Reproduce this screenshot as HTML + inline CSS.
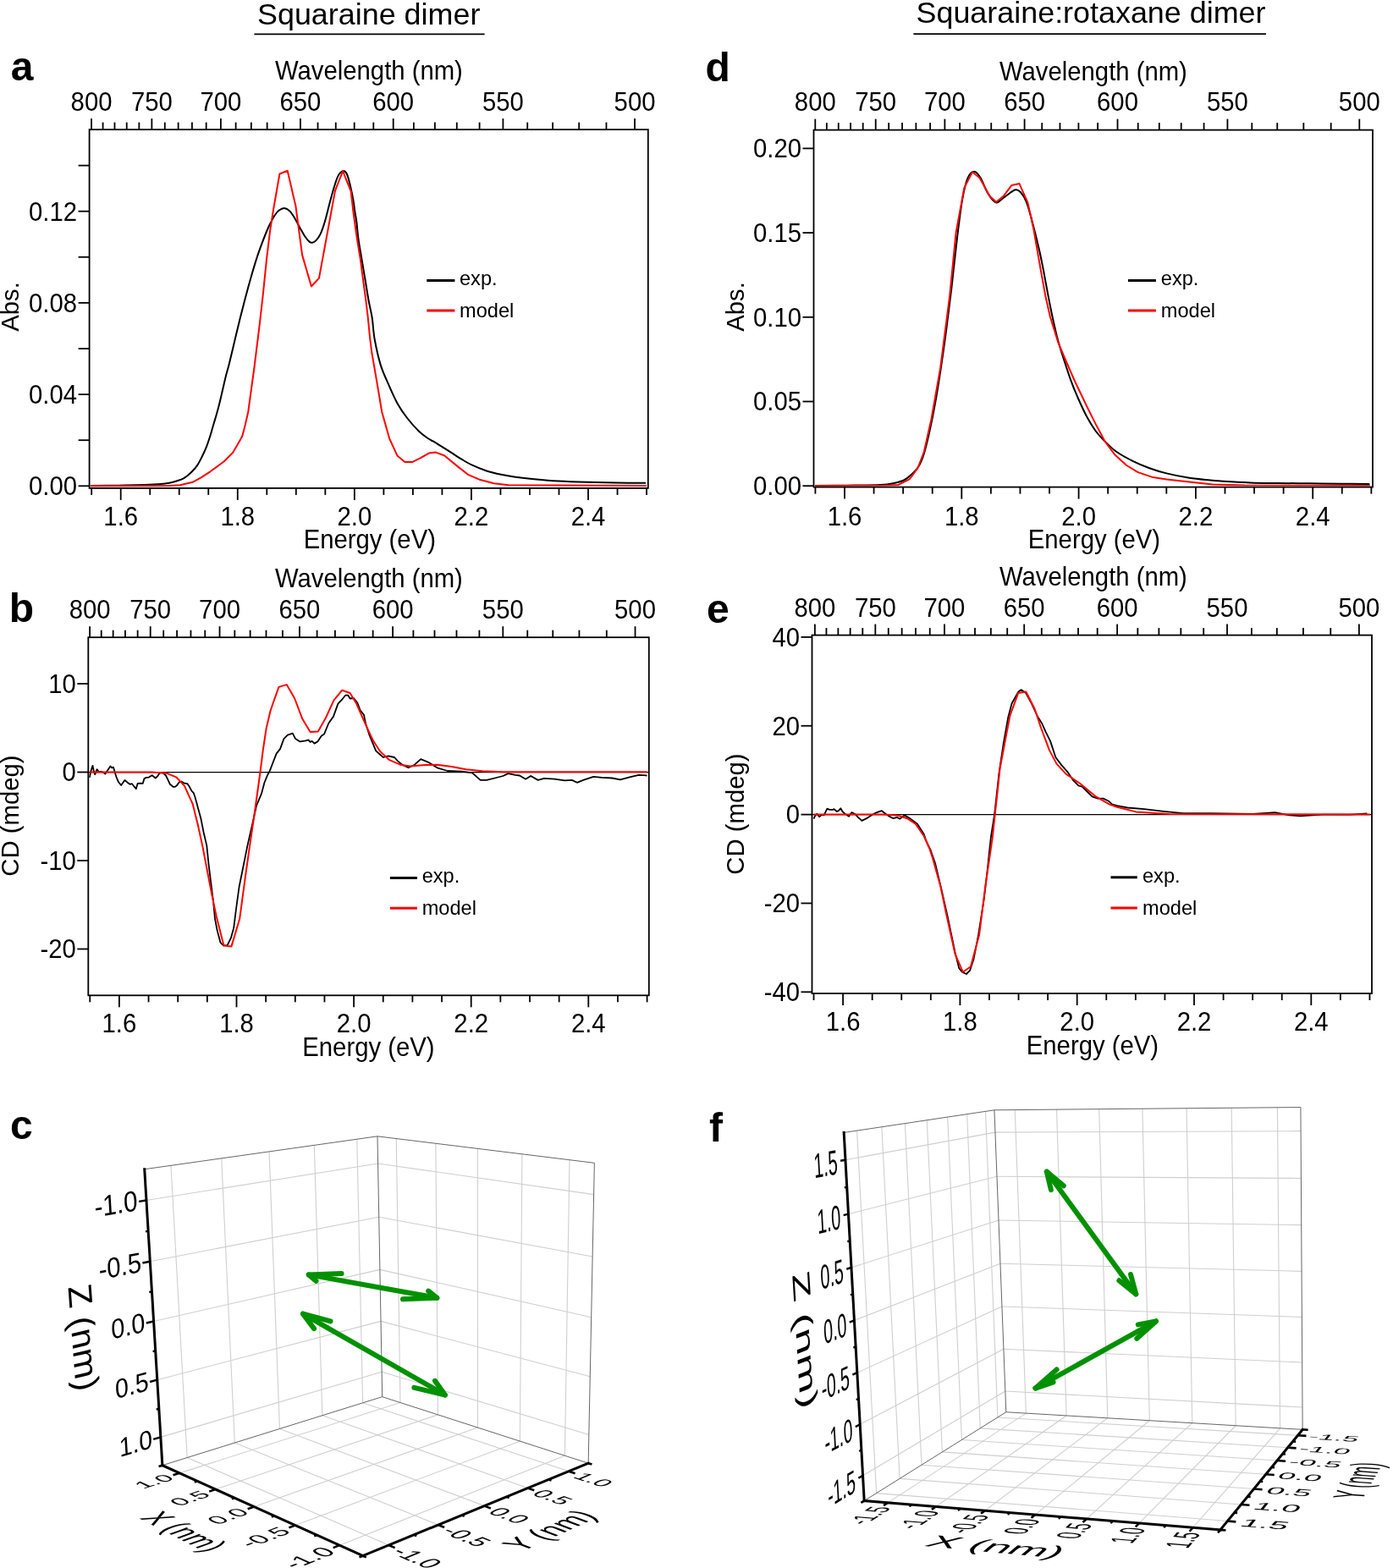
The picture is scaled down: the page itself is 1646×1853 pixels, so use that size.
<!DOCTYPE html>
<html><head><meta charset="utf-8"><title>Squaraine dimer figure</title>
<style>html,body{margin:0;padding:0;background:#fff;}svg{display:block;}</style>
</head><body>
<svg width="1646" height="1853" viewBox="0 0 1646 1853" font-family="'Liberation Sans', Arial, Helvetica, sans-serif">
<rect width="1646" height="1853" fill="#fff"/>
<text x="304" y="29" font-size="35.9" text-anchor="start">Squaraine dimer</text>
<line x1="300.4" y1="40.4" x2="572.6" y2="40.4" stroke="#000" stroke-width="1.7"/>
<text x="1082.5" y="26.5" font-size="35.9" text-anchor="start">Squaraine:rotaxane dimer</text>
<line x1="1079.4" y1="40.2" x2="1496" y2="40.2" stroke="#000" stroke-width="1.7"/>
<text x="12.8" y="95.4" font-size="48" text-anchor="start" font-weight="bold">a</text>
<text x="10.8" y="735.3" font-size="48" text-anchor="start" font-weight="bold">b</text>
<text x="12.1" y="1346.1" font-size="48" text-anchor="start" font-weight="bold">c</text>
<text x="833.6" y="96.3" font-size="48" text-anchor="start" font-weight="bold">d</text>
<text x="834.9" y="735.6" font-size="48" text-anchor="start" font-weight="bold">e</text>
<text x="838" y="1348.9" font-size="48" text-anchor="start" font-weight="bold">f</text>
<rect x="105.6" y="153.1" width="660.2" height="423.8" fill="none" stroke="#000" stroke-width="1.8"/>
<line x1="108.18" y1="576.9" x2="108.18" y2="584.9" stroke="#000" stroke-width="1.8"/>
<line x1="142.7" y1="576.9" x2="142.7" y2="590.9" stroke="#000" stroke-width="1.8"/>
<text x="0" y="0" font-size="29.3" text-anchor="middle" transform="translate(142.7 620.8) scale(1 1.05)">1.6</text>
<line x1="177.22" y1="576.9" x2="177.22" y2="584.9" stroke="#000" stroke-width="1.8"/>
<line x1="211.74" y1="576.9" x2="211.74" y2="584.9" stroke="#000" stroke-width="1.8"/>
<line x1="246.26" y1="576.9" x2="246.26" y2="584.9" stroke="#000" stroke-width="1.8"/>
<line x1="280.78" y1="576.9" x2="280.78" y2="590.9" stroke="#000" stroke-width="1.8"/>
<text x="0" y="0" font-size="29.3" text-anchor="middle" transform="translate(280.78 620.8) scale(1 1.05)">1.8</text>
<line x1="315.3" y1="576.9" x2="315.3" y2="584.9" stroke="#000" stroke-width="1.8"/>
<line x1="349.82" y1="576.9" x2="349.82" y2="584.9" stroke="#000" stroke-width="1.8"/>
<line x1="384.34" y1="576.9" x2="384.34" y2="584.9" stroke="#000" stroke-width="1.8"/>
<line x1="418.86" y1="576.9" x2="418.86" y2="590.9" stroke="#000" stroke-width="1.8"/>
<text x="0" y="0" font-size="29.3" text-anchor="middle" transform="translate(418.86 620.8) scale(1 1.05)">2.0</text>
<line x1="453.38" y1="576.9" x2="453.38" y2="584.9" stroke="#000" stroke-width="1.8"/>
<line x1="487.9" y1="576.9" x2="487.9" y2="584.9" stroke="#000" stroke-width="1.8"/>
<line x1="522.42" y1="576.9" x2="522.42" y2="584.9" stroke="#000" stroke-width="1.8"/>
<line x1="556.94" y1="576.9" x2="556.94" y2="590.9" stroke="#000" stroke-width="1.8"/>
<text x="0" y="0" font-size="29.3" text-anchor="middle" transform="translate(556.94 620.8) scale(1 1.05)">2.2</text>
<line x1="591.46" y1="576.9" x2="591.46" y2="584.9" stroke="#000" stroke-width="1.8"/>
<line x1="625.98" y1="576.9" x2="625.98" y2="584.9" stroke="#000" stroke-width="1.8"/>
<line x1="660.5" y1="576.9" x2="660.5" y2="584.9" stroke="#000" stroke-width="1.8"/>
<line x1="695.02" y1="576.9" x2="695.02" y2="590.9" stroke="#000" stroke-width="1.8"/>
<text x="0" y="0" font-size="29.3" text-anchor="middle" transform="translate(695.02 620.8) scale(1 1.05)">2.4</text>
<line x1="729.54" y1="576.9" x2="729.54" y2="584.9" stroke="#000" stroke-width="1.8"/>
<line x1="764.06" y1="576.9" x2="764.06" y2="584.9" stroke="#000" stroke-width="1.8"/>
<line x1="108.04" y1="153.1" x2="108.04" y2="140.1" stroke="#000" stroke-width="1.8"/>
<text x="0" y="0" font-size="29.3" text-anchor="middle" transform="translate(108.04 131.4) scale(1 1.06)">800</text>
<line x1="121.59" y1="153.1" x2="121.59" y2="144.6" stroke="#000" stroke-width="1.8"/>
<line x1="135.48" y1="153.1" x2="135.48" y2="144.6" stroke="#000" stroke-width="1.8"/>
<line x1="149.73" y1="153.1" x2="149.73" y2="144.6" stroke="#000" stroke-width="1.8"/>
<line x1="164.36" y1="153.1" x2="164.36" y2="144.6" stroke="#000" stroke-width="1.8"/>
<line x1="179.37" y1="153.1" x2="179.37" y2="140.1" stroke="#000" stroke-width="1.8"/>
<text x="0" y="0" font-size="29.3" text-anchor="middle" transform="translate(179.37 131.4) scale(1 1.06)">750</text>
<line x1="194.8" y1="153.1" x2="194.8" y2="144.6" stroke="#000" stroke-width="1.8"/>
<line x1="210.64" y1="153.1" x2="210.64" y2="144.6" stroke="#000" stroke-width="1.8"/>
<line x1="226.93" y1="153.1" x2="226.93" y2="144.6" stroke="#000" stroke-width="1.8"/>
<line x1="243.67" y1="153.1" x2="243.67" y2="144.6" stroke="#000" stroke-width="1.8"/>
<line x1="260.9" y1="153.1" x2="260.9" y2="140.1" stroke="#000" stroke-width="1.8"/>
<text x="0" y="0" font-size="29.3" text-anchor="middle" transform="translate(260.9 131.4) scale(1 1.06)">700</text>
<line x1="278.62" y1="153.1" x2="278.62" y2="144.6" stroke="#000" stroke-width="1.8"/>
<line x1="296.86" y1="153.1" x2="296.86" y2="144.6" stroke="#000" stroke-width="1.8"/>
<line x1="315.65" y1="153.1" x2="315.65" y2="144.6" stroke="#000" stroke-width="1.8"/>
<line x1="335.01" y1="153.1" x2="335.01" y2="144.6" stroke="#000" stroke-width="1.8"/>
<line x1="354.96" y1="153.1" x2="354.96" y2="140.1" stroke="#000" stroke-width="1.8"/>
<text x="0" y="0" font-size="29.3" text-anchor="middle" transform="translate(354.96 131.4) scale(1 1.06)">650</text>
<line x1="375.54" y1="153.1" x2="375.54" y2="144.6" stroke="#000" stroke-width="1.8"/>
<line x1="396.77" y1="153.1" x2="396.77" y2="144.6" stroke="#000" stroke-width="1.8"/>
<line x1="418.68" y1="153.1" x2="418.68" y2="144.6" stroke="#000" stroke-width="1.8"/>
<line x1="441.31" y1="153.1" x2="441.31" y2="144.6" stroke="#000" stroke-width="1.8"/>
<line x1="464.7" y1="153.1" x2="464.7" y2="140.1" stroke="#000" stroke-width="1.8"/>
<text x="0" y="0" font-size="29.3" text-anchor="middle" transform="translate(464.7 131.4) scale(1 1.06)">600</text>
<line x1="488.88" y1="153.1" x2="488.88" y2="144.6" stroke="#000" stroke-width="1.8"/>
<line x1="513.9" y1="153.1" x2="513.9" y2="144.6" stroke="#000" stroke-width="1.8"/>
<line x1="539.79" y1="153.1" x2="539.79" y2="144.6" stroke="#000" stroke-width="1.8"/>
<line x1="566.61" y1="153.1" x2="566.61" y2="144.6" stroke="#000" stroke-width="1.8"/>
<line x1="594.4" y1="153.1" x2="594.4" y2="140.1" stroke="#000" stroke-width="1.8"/>
<text x="0" y="0" font-size="29.3" text-anchor="middle" transform="translate(594.4 131.4) scale(1 1.06)">550</text>
<line x1="623.22" y1="153.1" x2="623.22" y2="144.6" stroke="#000" stroke-width="1.8"/>
<line x1="653.13" y1="153.1" x2="653.13" y2="144.6" stroke="#000" stroke-width="1.8"/>
<line x1="684.19" y1="153.1" x2="684.19" y2="144.6" stroke="#000" stroke-width="1.8"/>
<line x1="716.46" y1="153.1" x2="716.46" y2="144.6" stroke="#000" stroke-width="1.8"/>
<line x1="750.03" y1="153.1" x2="750.03" y2="140.1" stroke="#000" stroke-width="1.8"/>
<text x="0" y="0" font-size="29.3" text-anchor="middle" transform="translate(750.03 131.4) scale(1 1.06)">500</text>
<line x1="92.6" y1="574.3" x2="105.6" y2="574.3" stroke="#000" stroke-width="1.8"/>
<text x="0" y="0" font-size="29.3" text-anchor="end" transform="translate(91.1 585.1) scale(1 1.06)">0.00</text>
<line x1="92.6" y1="520.2" x2="105.6" y2="520.2" stroke="#000" stroke-width="1.8"/>
<line x1="92.6" y1="466.1" x2="105.6" y2="466.1" stroke="#000" stroke-width="1.8"/>
<text x="0" y="0" font-size="29.3" text-anchor="end" transform="translate(91.1 476.9) scale(1 1.06)">0.04</text>
<line x1="92.6" y1="412" x2="105.6" y2="412" stroke="#000" stroke-width="1.8"/>
<line x1="92.6" y1="357.9" x2="105.6" y2="357.9" stroke="#000" stroke-width="1.8"/>
<text x="0" y="0" font-size="29.3" text-anchor="end" transform="translate(91.1 368.7) scale(1 1.06)">0.08</text>
<line x1="92.6" y1="303.8" x2="105.6" y2="303.8" stroke="#000" stroke-width="1.8"/>
<line x1="92.6" y1="249.7" x2="105.6" y2="249.7" stroke="#000" stroke-width="1.8"/>
<text x="0" y="0" font-size="29.3" text-anchor="end" transform="translate(91.1 260.5) scale(1 1.06)">0.12</text>
<line x1="92.6" y1="195.6" x2="105.6" y2="195.6" stroke="#000" stroke-width="1.8"/>
<text x="0" y="0" font-size="29.3" text-anchor="start" transform="translate(325 94) scale(1 1.04)">Wavelength (nm)</text>
<text x="0" y="0" font-size="29.3" text-anchor="start" transform="translate(358.7 648.3) scale(1 1.04)">Energy (eV)</text>
<text x="0" y="0" font-size="29.3" text-anchor="middle" transform="translate(22 362.5) rotate(-90)">Abs.</text>
<line x1="504.3" y1="331.4" x2="537.4" y2="331.4" stroke="#000" stroke-width="3"/>
<line x1="504.3" y1="367.1" x2="537.4" y2="367.1" stroke="#f00" stroke-width="3"/>
<text x="543" y="337.1" font-size="23.6" text-anchor="start">exp.</text>
<text x="543" y="375" font-size="23.6" text-anchor="start">model</text>
<g clip-path="url(#clipa)">
<path d="M107 574 C112.5 573.95 129.5 573.87 140 573.7 C150.5 573.53 161.67 573.28 170 573 C178.33 572.72 185 572.38 190 572 C195 571.62 196.9 571.28 200 570.7 C203.1 570.12 205.72 569.43 208.6 568.5 C211.48 567.57 214.42 566.82 217.3 565.1 C220.18 563.38 223.32 560.65 225.9 558.2 C228.48 555.75 230.63 553.57 232.8 550.4 C234.97 547.23 237.03 542.95 238.9 539.2 C240.77 535.45 242.42 531.93 244 527.9 C245.58 523.87 246.95 519.6 248.4 515 C249.85 510.4 251.27 505.2 252.7 500.3 C254.13 495.4 255.57 490.92 257 485.6 C258.43 480.28 259.72 475.02 261.3 468.4 C262.88 461.78 264.92 452.3 266.5 445.9 C268.08 439.5 269 437.2 270.8 430 C272.6 422.8 275.13 411.75 277.3 402.7 C279.47 393.65 281.65 384.33 283.8 375.7 C285.95 367.07 288.05 358.98 290.2 350.9 C292.35 342.82 294.53 334.75 296.7 327.2 C298.87 319.65 301.03 312.27 303.2 305.6 C305.37 298.93 307.55 292.97 309.7 287.2 C311.85 281.43 314.22 275.37 316.1 271 C317.98 266.63 319.58 263.75 321 261 C322.42 258.25 323.18 256.53 324.6 254.5 C326.02 252.47 327.6 250.2 329.5 248.8 C331.4 247.4 333.83 245.97 336 246.1 C338.17 246.23 340.42 247.58 342.5 249.6 C344.58 251.62 346.5 254.9 348.5 258.2 C350.5 261.5 352.48 265.8 354.5 269.4 C356.52 273 358.72 277.05 360.6 279.8 C362.48 282.55 364.37 284.75 365.8 285.9 C367.23 287.05 367.92 287 369.2 286.7 C370.48 286.4 371.92 285.82 373.5 284.1 C375.08 282.38 376.97 280.13 378.7 276.4 C380.43 272.67 382.17 267.47 383.9 261.7 C385.63 255.93 387.37 248.28 389.1 241.8 C390.83 235.32 392.58 228.42 394.3 222.8 C396.02 217.18 397.6 211.55 399.4 208.1 C401.2 204.65 403.37 202.53 405.1 202.1 C406.83 201.67 408.3 202.48 409.8 205.5 C411.3 208.52 412.8 214.87 414.1 220.2 C415.4 225.53 416.73 232.53 417.6 237.5 C418.47 242.47 418.68 245.92 419.3 250 C419.92 254.08 420.6 256.6 421.3 262 C422 267.4 422.47 274.95 423.5 282.4 C424.53 289.85 426.15 298.6 427.5 306.7 C428.85 314.8 430.25 322.9 431.6 331 C432.95 339.1 434.25 347.88 435.6 355.3 C436.95 362.72 438.53 367.97 439.7 375.5 C440.87 383.03 440.93 391.23 442.6 400.5 C444.27 409.77 447 422.23 449.7 431.1 C452.4 439.97 455.52 446.15 458.8 453.7 C462.08 461.25 465.62 469.6 469.4 476.4 C473.18 483.2 477.22 488.95 481.5 494.5 C485.78 500.05 491.08 505.78 495.1 509.7 C499.12 513.62 502.28 515.73 505.6 518 C508.92 520.27 512.78 521.98 515 523.3 C517.22 524.62 515.98 524.05 518.9 525.9 C521.82 527.75 528.25 531.7 532.5 534.4 C536.75 537.1 540.15 539.55 544.4 542.1 C548.65 544.65 552.9 547.3 558 549.7 C563.1 552.1 569.32 554.65 575 556.5 C580.68 558.35 586.42 559.6 592.1 560.8 C597.78 562 602.58 562.8 609.1 563.7 C615.62 564.6 622.7 565.4 631.2 566.2 C639.7 567 649.62 567.9 660.1 568.5 C670.58 569.1 682.77 569.47 694.1 569.8 C705.43 570.13 716.62 570.33 728.1 570.5 C739.58 570.67 757.18 570.75 763 570.8" fill="none" stroke="#000" stroke-width="2" stroke-linejoin="round"/>
<path d="M107 574.2 L200 574.1 L213 573.3 L227.6 569.8 L238 564.2 L248.4 557.3 L264.8 545.2 L275.1 534.9 L284.2 519.3 L286.4 515 L289.8 502 L293.3 486.5 L295.9 467.5 L300.5 434 L306.4 386.5 L310.7 348.8 L315.1 305.6 L319.2 272 L323 248 L330.4 205.5 L339.7 201.7 L349.4 243.5 L357.1 301.4 L367.9 338.5 L377 328.6 L396 225.4 L405.1 202.1 L414.6 225.8 L417.4 250 L421.9 282.4 L425.9 306.7 L429.1 331 L432.4 355.3 L434.8 375.5 L437.2 400 L439.2 416 L445.2 450.7 L451.3 487 L460.3 518.7 L469.4 538.4 L478.4 545.9 L487.5 545.9 L496.6 541.4 L507.1 535.4 L515 534.6 L524.9 538.3 L541 551.4 L552.9 560.8 L566.5 566.7 L583.6 571.3 L600.6 573.2 L763.9 573.9" fill="none" stroke="#f00" stroke-width="2" stroke-linejoin="round"/>
</g>
<clipPath id="clipa"><rect x="106.6" y="154.1" width="658.2" height="421.8"/></clipPath>
<rect x="104.3" y="753.2" width="662.5" height="423.1" fill="none" stroke="#000" stroke-width="1.8"/>
<line x1="106.25" y1="1176.3" x2="106.25" y2="1184.3" stroke="#000" stroke-width="1.8"/>
<line x1="140.9" y1="1176.3" x2="140.9" y2="1190.3" stroke="#000" stroke-width="1.8"/>
<text x="0" y="0" font-size="29.3" text-anchor="middle" transform="translate(140.9 1220.4) scale(1 1.05)">1.6</text>
<line x1="175.55" y1="1176.3" x2="175.55" y2="1184.3" stroke="#000" stroke-width="1.8"/>
<line x1="210.2" y1="1176.3" x2="210.2" y2="1184.3" stroke="#000" stroke-width="1.8"/>
<line x1="244.85" y1="1176.3" x2="244.85" y2="1184.3" stroke="#000" stroke-width="1.8"/>
<line x1="279.5" y1="1176.3" x2="279.5" y2="1190.3" stroke="#000" stroke-width="1.8"/>
<text x="0" y="0" font-size="29.3" text-anchor="middle" transform="translate(279.5 1220.4) scale(1 1.05)">1.8</text>
<line x1="314.15" y1="1176.3" x2="314.15" y2="1184.3" stroke="#000" stroke-width="1.8"/>
<line x1="348.8" y1="1176.3" x2="348.8" y2="1184.3" stroke="#000" stroke-width="1.8"/>
<line x1="383.45" y1="1176.3" x2="383.45" y2="1184.3" stroke="#000" stroke-width="1.8"/>
<line x1="418.1" y1="1176.3" x2="418.1" y2="1190.3" stroke="#000" stroke-width="1.8"/>
<text x="0" y="0" font-size="29.3" text-anchor="middle" transform="translate(418.1 1220.4) scale(1 1.05)">2.0</text>
<line x1="452.75" y1="1176.3" x2="452.75" y2="1184.3" stroke="#000" stroke-width="1.8"/>
<line x1="487.4" y1="1176.3" x2="487.4" y2="1184.3" stroke="#000" stroke-width="1.8"/>
<line x1="522.05" y1="1176.3" x2="522.05" y2="1184.3" stroke="#000" stroke-width="1.8"/>
<line x1="556.7" y1="1176.3" x2="556.7" y2="1190.3" stroke="#000" stroke-width="1.8"/>
<text x="0" y="0" font-size="29.3" text-anchor="middle" transform="translate(556.7 1220.4) scale(1 1.05)">2.2</text>
<line x1="591.35" y1="1176.3" x2="591.35" y2="1184.3" stroke="#000" stroke-width="1.8"/>
<line x1="626" y1="1176.3" x2="626" y2="1184.3" stroke="#000" stroke-width="1.8"/>
<line x1="660.65" y1="1176.3" x2="660.65" y2="1184.3" stroke="#000" stroke-width="1.8"/>
<line x1="695.3" y1="1176.3" x2="695.3" y2="1190.3" stroke="#000" stroke-width="1.8"/>
<text x="0" y="0" font-size="29.3" text-anchor="middle" transform="translate(695.3 1220.4) scale(1 1.05)">2.4</text>
<line x1="729.95" y1="1176.3" x2="729.95" y2="1184.3" stroke="#000" stroke-width="1.8"/>
<line x1="764.6" y1="1176.3" x2="764.6" y2="1184.3" stroke="#000" stroke-width="1.8"/>
<line x1="106.11" y1="753.2" x2="106.11" y2="740.2" stroke="#000" stroke-width="1.8"/>
<text x="0" y="0" font-size="29.3" text-anchor="middle" transform="translate(106.11 731.4) scale(1 1.06)">800</text>
<line x1="119.71" y1="753.2" x2="119.71" y2="744.7" stroke="#000" stroke-width="1.8"/>
<line x1="133.65" y1="753.2" x2="133.65" y2="744.7" stroke="#000" stroke-width="1.8"/>
<line x1="147.96" y1="753.2" x2="147.96" y2="744.7" stroke="#000" stroke-width="1.8"/>
<line x1="162.64" y1="753.2" x2="162.64" y2="744.7" stroke="#000" stroke-width="1.8"/>
<line x1="177.71" y1="753.2" x2="177.71" y2="740.2" stroke="#000" stroke-width="1.8"/>
<text x="0" y="0" font-size="29.3" text-anchor="middle" transform="translate(177.71 731.4) scale(1 1.06)">750</text>
<line x1="193.19" y1="753.2" x2="193.19" y2="744.7" stroke="#000" stroke-width="1.8"/>
<line x1="209.1" y1="753.2" x2="209.1" y2="744.7" stroke="#000" stroke-width="1.8"/>
<line x1="225.45" y1="753.2" x2="225.45" y2="744.7" stroke="#000" stroke-width="1.8"/>
<line x1="242.25" y1="753.2" x2="242.25" y2="744.7" stroke="#000" stroke-width="1.8"/>
<line x1="259.54" y1="753.2" x2="259.54" y2="740.2" stroke="#000" stroke-width="1.8"/>
<text x="0" y="0" font-size="29.3" text-anchor="middle" transform="translate(259.54 731.4) scale(1 1.06)">700</text>
<line x1="277.33" y1="753.2" x2="277.33" y2="744.7" stroke="#000" stroke-width="1.8"/>
<line x1="295.64" y1="753.2" x2="295.64" y2="744.7" stroke="#000" stroke-width="1.8"/>
<line x1="314.5" y1="753.2" x2="314.5" y2="744.7" stroke="#000" stroke-width="1.8"/>
<line x1="333.93" y1="753.2" x2="333.93" y2="744.7" stroke="#000" stroke-width="1.8"/>
<line x1="353.96" y1="753.2" x2="353.96" y2="740.2" stroke="#000" stroke-width="1.8"/>
<text x="0" y="0" font-size="29.3" text-anchor="middle" transform="translate(353.96 731.4) scale(1 1.06)">650</text>
<line x1="374.61" y1="753.2" x2="374.61" y2="744.7" stroke="#000" stroke-width="1.8"/>
<line x1="395.92" y1="753.2" x2="395.92" y2="744.7" stroke="#000" stroke-width="1.8"/>
<line x1="417.92" y1="753.2" x2="417.92" y2="744.7" stroke="#000" stroke-width="1.8"/>
<line x1="440.64" y1="753.2" x2="440.64" y2="744.7" stroke="#000" stroke-width="1.8"/>
<line x1="464.12" y1="753.2" x2="464.12" y2="740.2" stroke="#000" stroke-width="1.8"/>
<text x="0" y="0" font-size="29.3" text-anchor="middle" transform="translate(464.12 731.4) scale(1 1.06)">600</text>
<line x1="488.39" y1="753.2" x2="488.39" y2="744.7" stroke="#000" stroke-width="1.8"/>
<line x1="513.5" y1="753.2" x2="513.5" y2="744.7" stroke="#000" stroke-width="1.8"/>
<line x1="539.48" y1="753.2" x2="539.48" y2="744.7" stroke="#000" stroke-width="1.8"/>
<line x1="566.4" y1="753.2" x2="566.4" y2="744.7" stroke="#000" stroke-width="1.8"/>
<line x1="594.3" y1="753.2" x2="594.3" y2="740.2" stroke="#000" stroke-width="1.8"/>
<text x="0" y="0" font-size="29.3" text-anchor="middle" transform="translate(594.3 731.4) scale(1 1.06)">550</text>
<line x1="623.23" y1="753.2" x2="623.23" y2="744.7" stroke="#000" stroke-width="1.8"/>
<line x1="653.25" y1="753.2" x2="653.25" y2="744.7" stroke="#000" stroke-width="1.8"/>
<line x1="684.43" y1="753.2" x2="684.43" y2="744.7" stroke="#000" stroke-width="1.8"/>
<line x1="716.82" y1="753.2" x2="716.82" y2="744.7" stroke="#000" stroke-width="1.8"/>
<line x1="750.52" y1="753.2" x2="750.52" y2="740.2" stroke="#000" stroke-width="1.8"/>
<text x="0" y="0" font-size="29.3" text-anchor="middle" transform="translate(750.52 731.4) scale(1 1.06)">500</text>
<line x1="91.3" y1="808" x2="104.3" y2="808" stroke="#000" stroke-width="1.8"/>
<text x="0" y="0" font-size="29.3" text-anchor="end" transform="translate(89.8 818.8) scale(1 1.06)">10</text>
<line x1="91.3" y1="912.5" x2="104.3" y2="912.5" stroke="#000" stroke-width="1.8"/>
<text x="0" y="0" font-size="29.3" text-anchor="end" transform="translate(89.8 923.3) scale(1 1.06)">0</text>
<line x1="91.3" y1="1017" x2="104.3" y2="1017" stroke="#000" stroke-width="1.8"/>
<text x="0" y="0" font-size="29.3" text-anchor="end" transform="translate(89.8 1027.8) scale(1 1.06)">-10</text>
<line x1="91.3" y1="1121.5" x2="104.3" y2="1121.5" stroke="#000" stroke-width="1.8"/>
<text x="0" y="0" font-size="29.3" text-anchor="end" transform="translate(89.8 1132.3) scale(1 1.06)">-20</text>
<line x1="104.3" y1="912.6" x2="766.8" y2="912.6" stroke="#000" stroke-width="1.4"/>
<text x="0" y="0" font-size="29.3" text-anchor="start" transform="translate(325 694.2) scale(1 1.04)">Wavelength (nm)</text>
<text x="0" y="0" font-size="29.3" text-anchor="start" transform="translate(357.3 1248.2) scale(1 1.04)">Energy (eV)</text>
<text x="0" y="0" font-size="29.3" text-anchor="middle" transform="translate(22 964) rotate(-90)">CD (mdeg)</text>
<line x1="460.9" y1="1037.5" x2="493" y2="1037.5" stroke="#000" stroke-width="3"/>
<line x1="460.9" y1="1073.2" x2="493" y2="1073.2" stroke="#f00" stroke-width="3"/>
<text x="498.7" y="1043.2" font-size="23.6" text-anchor="start">exp.</text>
<text x="498.7" y="1081.1" font-size="23.6" text-anchor="start">model</text>
<g clip-path="url(#clipb)">
<path d="M105.8 918.9 L107.3 911.6 L109.5 904.9 L110.9 911.6 L112.2 915.2 L114.6 909.2 L117 912.2 L119.4 911.8 L121.9 912.6 L124.3 914.6 L126.7 911 L130.4 905.5 L132.2 907.3 L134 906.7 L135.8 912.8 L137.7 918.9 L140.1 924.3 L143.1 928 L147.4 921.9 L151 925 L153.5 926.8 L155.9 926.2 L158.3 929.2 L160.8 932.2 L162.6 925.9 L165.6 925.6 L168.7 925.9 L170.5 920.1 L172.9 918.9 L175.9 918.6 L179.6 916.2 L183.8 919.5 L186.3 917.1 L188.7 913.4 L192.3 913 L196 916.5 L198.4 921.3 L200.9 926.8 L204.5 929.8 L206.9 929.8 L208.7 928.6 L211.8 924.3 L214.2 923.5 L217.9 925.6 L221.5 926.2 L223.9 929.8 L226.4 934.7 L228.8 937.1 L230.5 942 L234 955 L237.3 967 L240.5 983.2 L244.3 999.4 L246.5 1021 L249.2 1042.6 L251.9 1064.2 L254 1085.7 L256.7 1099.8 L260.5 1113.9 L264.3 1117.6 L268.6 1117.1 L272.9 1108.4 L276.2 1096.6 L278.9 1075 L282.6 1048 L287 1026.3 L292.4 999.4 L297.8 975.6 L303.1 952 L309.1 937.6 L312.4 925 L315.7 916.9 L319 910.3 L322.8 900.5 L326.6 890.6 L331 885.1 L335.4 873.1 L339.8 868.7 L345.8 866.6 L349.1 873.1 L354.5 876.4 L361.1 875.3 L364.4 874.4 L366.6 876.9 L368.7 875.8 L371.5 878.6 L375.3 876.4 L379.7 869.8 L383 867.6 L388.4 854.5 L393.9 846.9 L399.4 831.6 L403.7 827.2 L408.1 821.7 L411.4 821.7 L413.6 825.5 L418 825 L422.3 830.5 L425.6 839.2 L430 844.7 L432.2 855.6 L436.5 868.7 L444.2 887.3 L452.9 895 L459 893.3 L466.1 895 L470 899.4 L475.3 903.7 L482.6 907.3 L489.9 903.7 L497.2 897.1 L506.9 901.2 L516.6 907.3 L528.8 911 L545.8 911.7 L558 913.4 L567.7 921.9 L575 921.9 L584.7 919.5 L594.4 917 L600.5 914.1 L609 915.8 L613.9 916.5 L621.1 920.7 L627.2 917 L635.7 921.9 L643 919.9 L655.2 920.7 L667.3 922.4 L675.8 921.9 L681.9 924.8 L689.2 921.9 L701.3 917.8 L711 918.9 L723.2 919.5 L732.9 921.4 L745.1 918.2 L754.8 915.8 L764.5 916.5" fill="none" stroke="#000" stroke-width="1.8" stroke-linejoin="round"/>
<path d="M106.1 912.6 L179 912.6 L197.2 913.8 L208.1 918.3 L217.9 928.6 L227.6 949.8 L234 975.6 L239.4 1000.4 L244.8 1028.5 L250.2 1056.6 L255.6 1082.5 L264.3 1117 L268.6 1117.9 L273.4 1118.6 L283.2 1085.7 L290.2 1033.9 L295.6 996.1 L299.9 967 L303.7 940 L307.5 912.5 L310.8 886.2 L314.6 861.1 L319.5 840.3 L322.8 830.5 L329.4 811.9 L338.7 809.1 L348 825 L357.3 849.6 L366.6 864.9 L375.8 864.4 L385.1 848 L394.4 827.7 L404.3 815.7 L413.6 819 L421.2 831.6 L432.2 856.7 L440.9 875.3 L449.2 888 L460.2 898.2 L472.9 903.7 L485.1 905.6 L502.1 904.1 L516.6 903.7 L533.7 906.1 L550.7 909.3 L570.1 911.2 L594.4 912.2 L764.5 912.3" fill="none" stroke="#f00" stroke-width="2" stroke-linejoin="round"/>
</g>
<clipPath id="clipb"><rect x="105.3" y="754.2" width="660.5" height="421.1"/></clipPath>
<rect x="961.5" y="153.6" width="660.5" height="422" fill="none" stroke="#000" stroke-width="1.8"/>
<line x1="963.42" y1="575.6" x2="963.42" y2="583.6" stroke="#000" stroke-width="1.8"/>
<line x1="998" y1="575.6" x2="998" y2="589.6" stroke="#000" stroke-width="1.8"/>
<text x="0" y="0" font-size="29.3" text-anchor="middle" transform="translate(998 620.8) scale(1 1.05)">1.6</text>
<line x1="1032.57" y1="575.6" x2="1032.57" y2="583.6" stroke="#000" stroke-width="1.8"/>
<line x1="1067.15" y1="575.6" x2="1067.15" y2="583.6" stroke="#000" stroke-width="1.8"/>
<line x1="1101.72" y1="575.6" x2="1101.72" y2="583.6" stroke="#000" stroke-width="1.8"/>
<line x1="1136.3" y1="575.6" x2="1136.3" y2="589.6" stroke="#000" stroke-width="1.8"/>
<text x="0" y="0" font-size="29.3" text-anchor="middle" transform="translate(1136.3 620.8) scale(1 1.05)">1.8</text>
<line x1="1170.88" y1="575.6" x2="1170.88" y2="583.6" stroke="#000" stroke-width="1.8"/>
<line x1="1205.45" y1="575.6" x2="1205.45" y2="583.6" stroke="#000" stroke-width="1.8"/>
<line x1="1240.02" y1="575.6" x2="1240.02" y2="583.6" stroke="#000" stroke-width="1.8"/>
<line x1="1274.6" y1="575.6" x2="1274.6" y2="589.6" stroke="#000" stroke-width="1.8"/>
<text x="0" y="0" font-size="29.3" text-anchor="middle" transform="translate(1274.6 620.8) scale(1 1.05)">2.0</text>
<line x1="1309.17" y1="575.6" x2="1309.17" y2="583.6" stroke="#000" stroke-width="1.8"/>
<line x1="1343.75" y1="575.6" x2="1343.75" y2="583.6" stroke="#000" stroke-width="1.8"/>
<line x1="1378.32" y1="575.6" x2="1378.32" y2="583.6" stroke="#000" stroke-width="1.8"/>
<line x1="1412.9" y1="575.6" x2="1412.9" y2="589.6" stroke="#000" stroke-width="1.8"/>
<text x="0" y="0" font-size="29.3" text-anchor="middle" transform="translate(1412.9 620.8) scale(1 1.05)">2.2</text>
<line x1="1447.47" y1="575.6" x2="1447.47" y2="583.6" stroke="#000" stroke-width="1.8"/>
<line x1="1482.05" y1="575.6" x2="1482.05" y2="583.6" stroke="#000" stroke-width="1.8"/>
<line x1="1516.62" y1="575.6" x2="1516.62" y2="583.6" stroke="#000" stroke-width="1.8"/>
<line x1="1551.2" y1="575.6" x2="1551.2" y2="589.6" stroke="#000" stroke-width="1.8"/>
<text x="0" y="0" font-size="29.3" text-anchor="middle" transform="translate(1551.2 620.8) scale(1 1.05)">2.4</text>
<line x1="1585.78" y1="575.6" x2="1585.78" y2="583.6" stroke="#000" stroke-width="1.8"/>
<line x1="1620.35" y1="575.6" x2="1620.35" y2="583.6" stroke="#000" stroke-width="1.8"/>
<line x1="963.29" y1="153.6" x2="963.29" y2="140.6" stroke="#000" stroke-width="1.8"/>
<text x="0" y="0" font-size="29.3" text-anchor="middle" transform="translate(963.29 131.4) scale(1 1.06)">800</text>
<line x1="976.85" y1="153.6" x2="976.85" y2="145.1" stroke="#000" stroke-width="1.8"/>
<line x1="990.77" y1="153.6" x2="990.77" y2="145.1" stroke="#000" stroke-width="1.8"/>
<line x1="1005.04" y1="153.6" x2="1005.04" y2="145.1" stroke="#000" stroke-width="1.8"/>
<line x1="1019.69" y1="153.6" x2="1019.69" y2="145.1" stroke="#000" stroke-width="1.8"/>
<line x1="1034.73" y1="153.6" x2="1034.73" y2="140.6" stroke="#000" stroke-width="1.8"/>
<text x="0" y="0" font-size="29.3" text-anchor="middle" transform="translate(1034.73 131.4) scale(1 1.06)">750</text>
<line x1="1050.18" y1="153.6" x2="1050.18" y2="145.1" stroke="#000" stroke-width="1.8"/>
<line x1="1066.05" y1="153.6" x2="1066.05" y2="145.1" stroke="#000" stroke-width="1.8"/>
<line x1="1082.36" y1="153.6" x2="1082.36" y2="145.1" stroke="#000" stroke-width="1.8"/>
<line x1="1099.13" y1="153.6" x2="1099.13" y2="145.1" stroke="#000" stroke-width="1.8"/>
<line x1="1116.38" y1="153.6" x2="1116.38" y2="140.6" stroke="#000" stroke-width="1.8"/>
<text x="0" y="0" font-size="29.3" text-anchor="middle" transform="translate(1116.38 131.4) scale(1 1.06)">700</text>
<line x1="1134.14" y1="153.6" x2="1134.14" y2="145.1" stroke="#000" stroke-width="1.8"/>
<line x1="1152.41" y1="153.6" x2="1152.41" y2="145.1" stroke="#000" stroke-width="1.8"/>
<line x1="1171.23" y1="153.6" x2="1171.23" y2="145.1" stroke="#000" stroke-width="1.8"/>
<line x1="1190.61" y1="153.6" x2="1190.61" y2="145.1" stroke="#000" stroke-width="1.8"/>
<line x1="1210.6" y1="153.6" x2="1210.6" y2="140.6" stroke="#000" stroke-width="1.8"/>
<text x="0" y="0" font-size="29.3" text-anchor="middle" transform="translate(1210.6 131.4) scale(1 1.06)">650</text>
<line x1="1231.21" y1="153.6" x2="1231.21" y2="145.1" stroke="#000" stroke-width="1.8"/>
<line x1="1252.47" y1="153.6" x2="1252.47" y2="145.1" stroke="#000" stroke-width="1.8"/>
<line x1="1274.42" y1="153.6" x2="1274.42" y2="145.1" stroke="#000" stroke-width="1.8"/>
<line x1="1297.09" y1="153.6" x2="1297.09" y2="145.1" stroke="#000" stroke-width="1.8"/>
<line x1="1320.52" y1="153.6" x2="1320.52" y2="140.6" stroke="#000" stroke-width="1.8"/>
<text x="0" y="0" font-size="29.3" text-anchor="middle" transform="translate(1320.52 131.4) scale(1 1.06)">600</text>
<line x1="1344.73" y1="153.6" x2="1344.73" y2="145.1" stroke="#000" stroke-width="1.8"/>
<line x1="1369.79" y1="153.6" x2="1369.79" y2="145.1" stroke="#000" stroke-width="1.8"/>
<line x1="1395.72" y1="153.6" x2="1395.72" y2="145.1" stroke="#000" stroke-width="1.8"/>
<line x1="1422.58" y1="153.6" x2="1422.58" y2="145.1" stroke="#000" stroke-width="1.8"/>
<line x1="1450.42" y1="153.6" x2="1450.42" y2="140.6" stroke="#000" stroke-width="1.8"/>
<text x="0" y="0" font-size="29.3" text-anchor="middle" transform="translate(1450.42 131.4) scale(1 1.06)">550</text>
<line x1="1479.28" y1="153.6" x2="1479.28" y2="145.1" stroke="#000" stroke-width="1.8"/>
<line x1="1509.24" y1="153.6" x2="1509.24" y2="145.1" stroke="#000" stroke-width="1.8"/>
<line x1="1540.35" y1="153.6" x2="1540.35" y2="145.1" stroke="#000" stroke-width="1.8"/>
<line x1="1572.68" y1="153.6" x2="1572.68" y2="145.1" stroke="#000" stroke-width="1.8"/>
<line x1="1606.3" y1="153.6" x2="1606.3" y2="140.6" stroke="#000" stroke-width="1.8"/>
<text x="0" y="0" font-size="29.3" text-anchor="middle" transform="translate(1606.3 131.4) scale(1 1.06)">500</text>
<line x1="948.5" y1="574.2" x2="961.5" y2="574.2" stroke="#000" stroke-width="1.8"/>
<text x="0" y="0" font-size="29.3" text-anchor="end" transform="translate(947 585) scale(1 1.06)">0.00</text>
<line x1="948.5" y1="474.5" x2="961.5" y2="474.5" stroke="#000" stroke-width="1.8"/>
<text x="0" y="0" font-size="29.3" text-anchor="end" transform="translate(947 485.3) scale(1 1.06)">0.05</text>
<line x1="948.5" y1="374.8" x2="961.5" y2="374.8" stroke="#000" stroke-width="1.8"/>
<text x="0" y="0" font-size="29.3" text-anchor="end" transform="translate(947 385.6) scale(1 1.06)">0.10</text>
<line x1="948.5" y1="275.1" x2="961.5" y2="275.1" stroke="#000" stroke-width="1.8"/>
<text x="0" y="0" font-size="29.3" text-anchor="end" transform="translate(947 285.9) scale(1 1.06)">0.15</text>
<line x1="948.5" y1="175.4" x2="961.5" y2="175.4" stroke="#000" stroke-width="1.8"/>
<text x="0" y="0" font-size="29.3" text-anchor="end" transform="translate(947 186.2) scale(1 1.06)">0.20</text>
<text x="0" y="0" font-size="29.3" text-anchor="start" transform="translate(1181 94.6) scale(1 1.04)">Wavelength (nm)</text>
<text x="0" y="0" font-size="29.3" text-anchor="start" transform="translate(1214.8 648.3) scale(1 1.04)">Energy (eV)</text>
<text x="0" y="0" font-size="29.3" text-anchor="middle" transform="translate(878.5 362.5) rotate(-90)">Abs.</text>
<line x1="1333" y1="331.4" x2="1365.9" y2="331.4" stroke="#000" stroke-width="3"/>
<line x1="1333" y1="367.1" x2="1365.9" y2="367.1" stroke="#f00" stroke-width="3"/>
<text x="1371.8" y="337.1" font-size="23.6" text-anchor="start">exp.</text>
<text x="1371.8" y="375" font-size="23.6" text-anchor="start">model</text>
<g clip-path="url(#clipd)">
<path d="M963 573.9 C969.17 573.87 987.17 573.83 1000 573.7 C1012.83 573.57 1030.45 573.6 1040 573.1 C1049.55 572.6 1052.62 571.63 1057.3 570.7 C1061.98 569.77 1064.87 569.12 1068.1 567.5 C1071.33 565.88 1073.82 563.7 1076.7 561 C1079.58 558.3 1082.88 555.43 1085.4 551.3 C1087.92 547.17 1089.65 543.03 1091.8 536.2 C1093.95 529.37 1096.13 520.02 1098.3 510.3 C1100.47 500.58 1102.65 489.78 1104.8 477.9 C1106.95 466.02 1109.05 453.03 1111.2 439 C1113.35 424.97 1115.53 409.88 1117.7 393.7 C1119.87 377.52 1122.03 360.25 1124.2 341.9 C1126.37 323.55 1128.55 301.23 1130.7 283.6 C1132.85 265.97 1134.95 248.33 1137.1 236.1 C1139.25 223.87 1141.25 215.77 1143.6 210.2 C1145.95 204.63 1148.68 202.7 1151.2 202.7 C1153.72 202.7 1156 205.88 1158.7 210.2 C1161.4 214.52 1164.33 223.73 1167.4 228.6 C1170.47 233.47 1173.87 238.68 1177.1 239.4 C1180.33 240.12 1183.03 235.42 1186.8 232.9 C1190.57 230.38 1196.47 225.2 1199.7 224.3 C1202.93 223.4 1204.03 225.17 1206.2 227.5 C1208.37 229.83 1210.53 232.9 1212.7 238.3 C1214.87 243.7 1216.68 250.55 1219.2 259.9 C1221.72 269.25 1225.55 284.72 1227.8 294.4 C1230.05 304.08 1230.98 309.23 1232.7 318 C1234.42 326.77 1236.3 337.67 1238.1 347 C1239.9 356.33 1241.48 364.73 1243.5 374 C1245.52 383.27 1247.95 394.18 1250.2 402.6 C1252.45 411.02 1254.52 416.8 1257 424.5 C1259.48 432.2 1262.4 441.38 1265.1 448.8 C1267.8 456.22 1270.05 461.8 1273.2 469 C1276.35 476.2 1280.4 485.25 1284 492 C1287.6 498.75 1291.2 504.57 1294.8 509.5 C1298.4 514.43 1301.55 517.55 1305.6 521.6 C1309.65 525.65 1313.7 529.97 1319.1 533.8 C1324.5 537.63 1331.48 541.35 1338 544.6 C1344.52 547.85 1351.47 550.83 1358.2 553.3 C1364.93 555.77 1370.53 557.48 1378.4 559.4 C1386.27 561.32 1396.8 563.45 1405.4 564.8 C1414 566.15 1423.32 566.83 1430 567.5 C1436.68 568.17 1437.6 568.32 1445.5 568.8 C1453.4 569.28 1466.77 570.03 1477.4 570.4 C1488.03 570.77 1497.6 570.85 1509.3 571 C1521 571.15 1534.83 571.17 1547.6 571.3 C1560.37 571.43 1574.1 571.7 1585.9 571.8 C1597.7 571.9 1612.98 571.88 1618.4 571.9" fill="none" stroke="#000" stroke-width="2" stroke-linejoin="round"/>
<path d="M963 574.2 L1040 574 L1061.6 572.9 L1074.6 566.4 L1084.3 553.5 L1091.8 534 L1100.5 495.2 L1111.2 434.7 L1122.1 350.5 L1129.6 275 L1139.3 222.1 L1149 203.3 L1157.6 210.2 L1169.5 231.8 L1177.1 238.7 L1185.7 231.8 L1195.4 218.9 L1204.5 217.1 L1214.4 239.4 L1221.3 270.7 L1230 320.3 L1235.4 350 L1240.8 374 L1250.2 404.3 L1259.7 427 L1270.5 451.5 L1284 479.8 L1294.8 501.4 L1305.6 521.6 L1317.7 537.8 L1331.2 550 L1344.7 558.1 L1362.3 564.1 L1378.4 566.6 L1405.4 569.5 L1432.8 572.4 L1471 573.6 L1619 574" fill="none" stroke="#f00" stroke-width="2" stroke-linejoin="round"/>
</g>
<clipPath id="clipd"><rect x="962.5" y="154.6" width="658.5" height="420"/></clipPath>
<rect x="959.5" y="750.6" width="661.5" height="423.4" fill="none" stroke="#000" stroke-width="1.8"/>
<line x1="961.52" y1="1174" x2="961.52" y2="1182" stroke="#000" stroke-width="1.8"/>
<line x1="996.1" y1="1174" x2="996.1" y2="1188" stroke="#000" stroke-width="1.8"/>
<text x="0" y="0" font-size="29.3" text-anchor="middle" transform="translate(996.1 1218.3) scale(1 1.05)">1.6</text>
<line x1="1030.67" y1="1174" x2="1030.67" y2="1182" stroke="#000" stroke-width="1.8"/>
<line x1="1065.25" y1="1174" x2="1065.25" y2="1182" stroke="#000" stroke-width="1.8"/>
<line x1="1099.83" y1="1174" x2="1099.83" y2="1182" stroke="#000" stroke-width="1.8"/>
<line x1="1134.4" y1="1174" x2="1134.4" y2="1188" stroke="#000" stroke-width="1.8"/>
<text x="0" y="0" font-size="29.3" text-anchor="middle" transform="translate(1134.4 1218.3) scale(1 1.05)">1.8</text>
<line x1="1168.97" y1="1174" x2="1168.97" y2="1182" stroke="#000" stroke-width="1.8"/>
<line x1="1203.55" y1="1174" x2="1203.55" y2="1182" stroke="#000" stroke-width="1.8"/>
<line x1="1238.12" y1="1174" x2="1238.12" y2="1182" stroke="#000" stroke-width="1.8"/>
<line x1="1272.7" y1="1174" x2="1272.7" y2="1188" stroke="#000" stroke-width="1.8"/>
<text x="0" y="0" font-size="29.3" text-anchor="middle" transform="translate(1272.7 1218.3) scale(1 1.05)">2.0</text>
<line x1="1307.27" y1="1174" x2="1307.27" y2="1182" stroke="#000" stroke-width="1.8"/>
<line x1="1341.85" y1="1174" x2="1341.85" y2="1182" stroke="#000" stroke-width="1.8"/>
<line x1="1376.42" y1="1174" x2="1376.42" y2="1182" stroke="#000" stroke-width="1.8"/>
<line x1="1411" y1="1174" x2="1411" y2="1188" stroke="#000" stroke-width="1.8"/>
<text x="0" y="0" font-size="29.3" text-anchor="middle" transform="translate(1411 1218.3) scale(1 1.05)">2.2</text>
<line x1="1445.58" y1="1174" x2="1445.58" y2="1182" stroke="#000" stroke-width="1.8"/>
<line x1="1480.15" y1="1174" x2="1480.15" y2="1182" stroke="#000" stroke-width="1.8"/>
<line x1="1514.72" y1="1174" x2="1514.72" y2="1182" stroke="#000" stroke-width="1.8"/>
<line x1="1549.3" y1="1174" x2="1549.3" y2="1188" stroke="#000" stroke-width="1.8"/>
<text x="0" y="0" font-size="29.3" text-anchor="middle" transform="translate(1549.3 1218.3) scale(1 1.05)">2.4</text>
<line x1="1583.88" y1="1174" x2="1583.88" y2="1182" stroke="#000" stroke-width="1.8"/>
<line x1="1618.45" y1="1174" x2="1618.45" y2="1182" stroke="#000" stroke-width="1.8"/>
<line x1="962.89" y1="750.6" x2="962.89" y2="737.6" stroke="#000" stroke-width="1.8"/>
<text x="0" y="0" font-size="29.3" text-anchor="middle" transform="translate(962.89 728.9) scale(1 1.06)">800</text>
<line x1="976.45" y1="750.6" x2="976.45" y2="742.1" stroke="#000" stroke-width="1.8"/>
<line x1="990.37" y1="750.6" x2="990.37" y2="742.1" stroke="#000" stroke-width="1.8"/>
<line x1="1004.64" y1="750.6" x2="1004.64" y2="742.1" stroke="#000" stroke-width="1.8"/>
<line x1="1019.29" y1="750.6" x2="1019.29" y2="742.1" stroke="#000" stroke-width="1.8"/>
<line x1="1034.33" y1="750.6" x2="1034.33" y2="737.6" stroke="#000" stroke-width="1.8"/>
<text x="0" y="0" font-size="29.3" text-anchor="middle" transform="translate(1034.33 728.9) scale(1 1.06)">750</text>
<line x1="1049.78" y1="750.6" x2="1049.78" y2="742.1" stroke="#000" stroke-width="1.8"/>
<line x1="1065.65" y1="750.6" x2="1065.65" y2="742.1" stroke="#000" stroke-width="1.8"/>
<line x1="1081.96" y1="750.6" x2="1081.96" y2="742.1" stroke="#000" stroke-width="1.8"/>
<line x1="1098.73" y1="750.6" x2="1098.73" y2="742.1" stroke="#000" stroke-width="1.8"/>
<line x1="1115.98" y1="750.6" x2="1115.98" y2="737.6" stroke="#000" stroke-width="1.8"/>
<text x="0" y="0" font-size="29.3" text-anchor="middle" transform="translate(1115.98 728.9) scale(1 1.06)">700</text>
<line x1="1133.74" y1="750.6" x2="1133.74" y2="742.1" stroke="#000" stroke-width="1.8"/>
<line x1="1152.01" y1="750.6" x2="1152.01" y2="742.1" stroke="#000" stroke-width="1.8"/>
<line x1="1170.83" y1="750.6" x2="1170.83" y2="742.1" stroke="#000" stroke-width="1.8"/>
<line x1="1190.21" y1="750.6" x2="1190.21" y2="742.1" stroke="#000" stroke-width="1.8"/>
<line x1="1210.2" y1="750.6" x2="1210.2" y2="737.6" stroke="#000" stroke-width="1.8"/>
<text x="0" y="0" font-size="29.3" text-anchor="middle" transform="translate(1210.2 728.9) scale(1 1.06)">650</text>
<line x1="1230.81" y1="750.6" x2="1230.81" y2="742.1" stroke="#000" stroke-width="1.8"/>
<line x1="1252.07" y1="750.6" x2="1252.07" y2="742.1" stroke="#000" stroke-width="1.8"/>
<line x1="1274.02" y1="750.6" x2="1274.02" y2="742.1" stroke="#000" stroke-width="1.8"/>
<line x1="1296.69" y1="750.6" x2="1296.69" y2="742.1" stroke="#000" stroke-width="1.8"/>
<line x1="1320.12" y1="750.6" x2="1320.12" y2="737.6" stroke="#000" stroke-width="1.8"/>
<text x="0" y="0" font-size="29.3" text-anchor="middle" transform="translate(1320.12 728.9) scale(1 1.06)">600</text>
<line x1="1344.33" y1="750.6" x2="1344.33" y2="742.1" stroke="#000" stroke-width="1.8"/>
<line x1="1369.39" y1="750.6" x2="1369.39" y2="742.1" stroke="#000" stroke-width="1.8"/>
<line x1="1395.32" y1="750.6" x2="1395.32" y2="742.1" stroke="#000" stroke-width="1.8"/>
<line x1="1422.18" y1="750.6" x2="1422.18" y2="742.1" stroke="#000" stroke-width="1.8"/>
<line x1="1450.02" y1="750.6" x2="1450.02" y2="737.6" stroke="#000" stroke-width="1.8"/>
<text x="0" y="0" font-size="29.3" text-anchor="middle" transform="translate(1450.02 728.9) scale(1 1.06)">550</text>
<line x1="1478.88" y1="750.6" x2="1478.88" y2="742.1" stroke="#000" stroke-width="1.8"/>
<line x1="1508.84" y1="750.6" x2="1508.84" y2="742.1" stroke="#000" stroke-width="1.8"/>
<line x1="1539.95" y1="750.6" x2="1539.95" y2="742.1" stroke="#000" stroke-width="1.8"/>
<line x1="1572.28" y1="750.6" x2="1572.28" y2="742.1" stroke="#000" stroke-width="1.8"/>
<line x1="1605.9" y1="750.6" x2="1605.9" y2="737.6" stroke="#000" stroke-width="1.8"/>
<text x="0" y="0" font-size="29.3" text-anchor="middle" transform="translate(1605.9 728.9) scale(1 1.06)">500</text>
<line x1="946.5" y1="752.9" x2="959.5" y2="752.9" stroke="#000" stroke-width="1.8"/>
<text x="0" y="0" font-size="29.3" text-anchor="end" transform="translate(945 763.7) scale(1 1.06)">40</text>
<line x1="946.5" y1="857.75" x2="959.5" y2="857.75" stroke="#000" stroke-width="1.8"/>
<text x="0" y="0" font-size="29.3" text-anchor="end" transform="translate(945 868.55) scale(1 1.06)">20</text>
<line x1="946.5" y1="962.6" x2="959.5" y2="962.6" stroke="#000" stroke-width="1.8"/>
<text x="0" y="0" font-size="29.3" text-anchor="end" transform="translate(945 973.4) scale(1 1.06)">0</text>
<line x1="946.5" y1="1067.45" x2="959.5" y2="1067.45" stroke="#000" stroke-width="1.8"/>
<text x="0" y="0" font-size="29.3" text-anchor="end" transform="translate(945 1078.25) scale(1 1.06)">-20</text>
<line x1="946.5" y1="1172.3" x2="959.5" y2="1172.3" stroke="#000" stroke-width="1.8"/>
<text x="0" y="0" font-size="29.3" text-anchor="end" transform="translate(945 1183.1) scale(1 1.06)">-40</text>
<line x1="959.5" y1="962.6" x2="1621" y2="962.6" stroke="#000" stroke-width="1.4"/>
<text x="0" y="0" font-size="29.3" text-anchor="start" transform="translate(1181 691.6) scale(1 1.04)">Wavelength (nm)</text>
<text x="0" y="0" font-size="29.3" text-anchor="start" transform="translate(1212.8 1245.7) scale(1 1.04)">Energy (eV)</text>
<text x="0" y="0" font-size="29.3" text-anchor="middle" transform="translate(878.5 962) rotate(-90)">CD (mdeg)</text>
<line x1="1312.5" y1="1036.8" x2="1343.8" y2="1036.8" stroke="#000" stroke-width="3"/>
<line x1="1312.5" y1="1073" x2="1343.8" y2="1073" stroke="#f00" stroke-width="3"/>
<text x="1350" y="1042.5" font-size="23.6" text-anchor="start">exp.</text>
<text x="1350" y="1080.9" font-size="23.6" text-anchor="start">model</text>
<g clip-path="url(#clipe)">
<path d="M961.6 967.7 L963.2 963.9 L965.4 961.7 L968.1 965.2 L971.4 962.8 L973.6 963.4 L975.2 960.1 L977.4 955.7 L980.2 956.8 L984 956.8 L985.6 956.2 L988.9 959 L991.1 957.9 L993.3 955.2 L995.5 959 L997.7 961.2 L1003.1 964.8 L1006.4 960.1 L1010.8 962.3 L1014.1 966.1 L1018.4 969.9 L1025 966.6 L1031.6 962.3 L1035.9 960.1 L1041.9 958.2 L1045.8 961.2 L1050.1 964.4 L1055.6 967.2 L1060 965.9 L1063.3 967.7 L1068.7 963.4 L1074.2 966.6 L1084 973.7 L1091.7 985.8 L1094.5 994 L1099.3 1003.8 L1105 1020 L1112.1 1049.6 L1119.4 1081.7 L1128.6 1125.8 L1133.2 1144.1 L1136.9 1148.7 L1141.9 1151 L1146.1 1146.9 L1150.6 1133.1 L1156.1 1104.7 L1162.6 1063.4 L1166.5 1030 L1170.8 990 L1175.1 962.5 L1180.5 913.4 L1185.9 877.7 L1191.3 847.5 L1195.6 831.3 L1203.2 817.8 L1206.4 815.1 L1211.8 818.4 L1218.3 830.2 L1225.9 846.4 L1231.3 855.1 L1235.6 864.8 L1241 875.6 L1247.4 895 L1253.9 903.6 L1261.5 912.3 L1268 922 L1274.4 928.5 L1278.8 929.6 L1284.2 935 L1290.6 941.4 L1297.1 943.6 L1303.6 943.6 L1310.1 946.8 L1314.4 950.6 L1320 952.2 L1332.3 954.5 L1352 956.1 L1375.1 958.8 L1398.1 961.1 L1431 961.1 L1480.4 962 L1506.7 960.1 L1523.2 963.4 L1536.4 964.4 L1562.7 962.7 L1595.6 962.7 L1615.4 961.4" fill="none" stroke="#000" stroke-width="1.8" stroke-linejoin="round"/>
<path d="M961.6 962.6 L1042.5 962.6 L1060 963.4 L1072 967.2 L1081.9 973.7 L1091.7 988 L1098.3 1002.8 L1102 1013.9 L1111.2 1046.9 L1118.5 1081.7 L1128.6 1127.6 L1137.8 1148.7 L1147 1142.3 L1157.1 1104.7 L1164.4 1046.9 L1172.7 990 L1175.7 962.5 L1181.6 908 L1188.1 873.4 L1193.5 845.3 L1203.2 818.9 L1212.4 817.5 L1222.6 837.8 L1230.2 860.5 L1239.9 886.4 L1248.5 902.6 L1259.3 914.4 L1276.6 926.3 L1295 941.4 L1311.1 950.6 L1320 953.8 L1342.2 959.4 L1381.7 962 L1618.7 962.5" fill="none" stroke="#f00" stroke-width="2" stroke-linejoin="round"/>
</g>
<clipPath id="clipe"><rect x="960.5" y="751.6" width="659.5" height="421.4"/></clipPath>
<line x1="201.96" y1="1377.33" x2="221.16" y2="1722.57" stroke="#cfcfcf" stroke-width="1.1"/>
<line x1="172.96" y1="1418.5" x2="446.59" y2="1374.95" stroke="#cfcfcf" stroke-width="1.1"/>
<line x1="261.7" y1="1368.88" x2="277.32" y2="1705.05" stroke="#cfcfcf" stroke-width="1.1"/>
<line x1="177.33" y1="1490.79" x2="447.75" y2="1438.28" stroke="#cfcfcf" stroke-width="1.1"/>
<line x1="318.06" y1="1360.91" x2="330.47" y2="1688.47" stroke="#cfcfcf" stroke-width="1.1"/>
<line x1="181.59" y1="1561.5" x2="448.9" y2="1500.41" stroke="#cfcfcf" stroke-width="1.1"/>
<line x1="371.34" y1="1353.37" x2="380.84" y2="1672.76" stroke="#cfcfcf" stroke-width="1.1"/>
<line x1="185.77" y1="1630.69" x2="450.02" y2="1561.36" stroke="#cfcfcf" stroke-width="1.1"/>
<line x1="421.77" y1="1346.24" x2="428.66" y2="1657.84" stroke="#cfcfcf" stroke-width="1.1"/>
<line x1="189.86" y1="1698.39" x2="451.13" y2="1621.18" stroke="#cfcfcf" stroke-width="1.1"/>
<line x1="672.96" y1="1370.71" x2="667.4" y2="1720.24" stroke="#cfcfcf" stroke-width="1.1"/>
<line x1="701.63" y1="1411.63" x2="446.59" y2="1374.95" stroke="#cfcfcf" stroke-width="1.1"/>
<line x1="616.9" y1="1363.82" x2="614.39" y2="1703.14" stroke="#cfcfcf" stroke-width="1.1"/>
<line x1="700.14" y1="1484.96" x2="447.75" y2="1438.28" stroke="#cfcfcf" stroke-width="1.1"/>
<line x1="564.3" y1="1357.36" x2="564.49" y2="1687.05" stroke="#cfcfcf" stroke-width="1.1"/>
<line x1="698.67" y1="1556.67" x2="448.9" y2="1500.41" stroke="#cfcfcf" stroke-width="1.1"/>
<line x1="514.85" y1="1351.28" x2="517.43" y2="1671.88" stroke="#cfcfcf" stroke-width="1.1"/>
<line x1="697.24" y1="1626.81" x2="450.02" y2="1561.36" stroke="#cfcfcf" stroke-width="1.1"/>
<line x1="468.28" y1="1345.55" x2="472.98" y2="1657.54" stroke="#cfcfcf" stroke-width="1.1"/>
<line x1="695.84" y1="1695.43" x2="451.13" y2="1621.18" stroke="#cfcfcf" stroke-width="1.1"/>
<line x1="401.12" y1="1826.14" x2="667.4" y2="1720.24" stroke="#cfcfcf" stroke-width="1.1"/>
<line x1="459.33" y1="1825.99" x2="221.16" y2="1722.57" stroke="#cfcfcf" stroke-width="1.1"/>
<line x1="348.91" y1="1802.58" x2="614.39" y2="1703.14" stroke="#cfcfcf" stroke-width="1.1"/>
<line x1="517.67" y1="1802.04" x2="277.32" y2="1705.05" stroke="#cfcfcf" stroke-width="1.1"/>
<line x1="300.24" y1="1780.61" x2="564.49" y2="1687.05" stroke="#cfcfcf" stroke-width="1.1"/>
<line x1="572.35" y1="1779.6" x2="330.47" y2="1688.47" stroke="#cfcfcf" stroke-width="1.1"/>
<line x1="254.76" y1="1760.09" x2="517.43" y2="1671.88" stroke="#cfcfcf" stroke-width="1.1"/>
<line x1="623.71" y1="1758.52" x2="380.84" y2="1672.76" stroke="#cfcfcf" stroke-width="1.1"/>
<line x1="212.17" y1="1740.86" x2="472.98" y2="1657.54" stroke="#cfcfcf" stroke-width="1.1"/>
<line x1="672.05" y1="1738.68" x2="428.66" y2="1657.84" stroke="#cfcfcf" stroke-width="1.1"/>
<line x1="170.74" y1="1381.75" x2="445.99" y2="1342.82" stroke="#666" stroke-width="1"/>
<line x1="445.99" y1="1342.82" x2="451.67" y2="1650.67" stroke="#666" stroke-width="1"/>
<line x1="445.99" y1="1342.82" x2="702.39" y2="1374.33" stroke="#666" stroke-width="1"/>
<line x1="702.39" y1="1374.33" x2="695.16" y2="1729.19" stroke="#666" stroke-width="1"/>
<line x1="191.87" y1="1731.7" x2="451.67" y2="1650.67" stroke="#666" stroke-width="1"/>
<line x1="451.67" y1="1650.67" x2="695.16" y2="1729.19" stroke="#666" stroke-width="1"/>
<line x1="170.74" y1="1381.75" x2="191.87" y2="1731.7" stroke="#000" stroke-width="3" stroke-linecap="square"/>
<line x1="191.87" y1="1731.7" x2="428.67" y2="1838.58" stroke="#000" stroke-width="3" stroke-linecap="square"/>
<line x1="428.67" y1="1838.58" x2="695.16" y2="1729.19" stroke="#000" stroke-width="3" stroke-linecap="square"/>
<line x1="428.67" y1="1838.58" x2="424.51" y2="1840.29" stroke="#000" stroke-width="2.6"/>
<line x1="428.67" y1="1838.58" x2="432.77" y2="1840.43" stroke="#000" stroke-width="2.6"/>
<line x1="172.96" y1="1418.5" x2="164.07" y2="1419.92" stroke="#000" stroke-width="2.4"/>
<line x1="401.12" y1="1826.14" x2="393.68" y2="1829.1" stroke="#000" stroke-width="2.6"/>
<line x1="459.33" y1="1825.99" x2="466.67" y2="1829.18" stroke="#000" stroke-width="2.6"/>
<line x1="175.16" y1="1454.85" x2="172" y2="1455.4" stroke="#000" stroke-width="2.4"/>
<line x1="374.55" y1="1814.15" x2="371.28" y2="1815.41" stroke="#000" stroke-width="2.6"/>
<line x1="488.98" y1="1813.82" x2="492.21" y2="1815.17" stroke="#000" stroke-width="2.6"/>
<line x1="177.33" y1="1490.79" x2="168.49" y2="1492.51" stroke="#000" stroke-width="2.4"/>
<line x1="348.91" y1="1802.58" x2="341.42" y2="1805.38" stroke="#000" stroke-width="2.6"/>
<line x1="517.67" y1="1802.04" x2="525.09" y2="1805.04" stroke="#000" stroke-width="2.6"/>
<line x1="179.47" y1="1526.34" x2="176.34" y2="1527" stroke="#000" stroke-width="2.4"/>
<line x1="324.16" y1="1791.41" x2="320.87" y2="1792.6" stroke="#000" stroke-width="2.6"/>
<line x1="545.45" y1="1790.64" x2="548.71" y2="1791.91" stroke="#000" stroke-width="2.6"/>
<line x1="181.59" y1="1561.5" x2="172.82" y2="1563.51" stroke="#000" stroke-width="2.4"/>
<line x1="300.24" y1="1780.61" x2="292.7" y2="1783.28" stroke="#000" stroke-width="2.6"/>
<line x1="572.35" y1="1779.6" x2="579.84" y2="1782.42" stroke="#000" stroke-width="2.6"/>
<line x1="183.69" y1="1596.28" x2="180.59" y2="1597.05" stroke="#000" stroke-width="2.4"/>
<line x1="277.12" y1="1770.18" x2="273.81" y2="1771.32" stroke="#000" stroke-width="2.6"/>
<line x1="598.43" y1="1768.89" x2="601.72" y2="1770.09" stroke="#000" stroke-width="2.6"/>
<line x1="185.77" y1="1630.69" x2="177.07" y2="1632.97" stroke="#000" stroke-width="2.4"/>
<line x1="254.76" y1="1760.09" x2="247.18" y2="1762.63" stroke="#000" stroke-width="2.6"/>
<line x1="623.71" y1="1758.52" x2="631.26" y2="1761.18" stroke="#000" stroke-width="2.6"/>
<line x1="187.83" y1="1664.72" x2="184.74" y2="1665.58" stroke="#000" stroke-width="2.4"/>
<line x1="233.12" y1="1750.32" x2="229.8" y2="1751.41" stroke="#000" stroke-width="2.6"/>
<line x1="648.24" y1="1748.45" x2="651.55" y2="1749.58" stroke="#000" stroke-width="2.6"/>
<line x1="189.86" y1="1698.39" x2="181.23" y2="1700.94" stroke="#000" stroke-width="2.4"/>
<line x1="212.17" y1="1740.86" x2="204.55" y2="1743.3" stroke="#000" stroke-width="2.6"/>
<line x1="672.05" y1="1738.68" x2="679.64" y2="1741.2" stroke="#000" stroke-width="2.6"/>
<line x1="191.87" y1="1731.7" x2="187.57" y2="1733.04" stroke="#000" stroke-width="2.6"/>
<line x1="695.16" y1="1729.19" x2="699.44" y2="1730.57" stroke="#000" stroke-width="2.6"/>
<text x="0" y="30" font-size="100" text-anchor="end" transform="matrix(0.2951 -0.0470 0.0211 0.3408 162.45 1420.17)">-1.0</text>
<text x="0" y="36" font-size="100" text-anchor="end" transform="matrix(0.2870 -0.1141 0.2463 0.1128 389.23 1830.87)">-1.0</text>
<text x="0" y="36" font-size="100" text-anchor="start" transform="matrix(0.2605 0.1131 -0.2752 0.1144 470.67 1830.92)">-1.0</text>
<text x="0" y="30" font-size="100" text-anchor="end" transform="matrix(0.2912 -0.0565 0.0207 0.3333 166.96 1492.81)">-0.5</text>
<text x="0" y="36" font-size="100" text-anchor="end" transform="matrix(0.2846 -0.1066 0.2292 0.1050 337.12 1806.99)">-0.5</text>
<text x="0" y="36" font-size="100" text-anchor="start" transform="matrix(0.2615 0.1055 -0.2575 0.1071 529.06 1806.64)">-0.5</text>
<text x="0" y="30" font-size="100" text-anchor="end" transform="matrix(0.2874 -0.0657 0.0202 0.3260 171.36 1563.84)">0.0</text>
<text x="0" y="36" font-size="100" text-anchor="end" transform="matrix(0.2818 -0.0998 0.2139 0.0980 288.57 1784.75)">0.0</text>
<text x="0" y="36" font-size="100" text-anchor="start" transform="matrix(0.2618 0.0986 -0.2415 0.1004 583.76 1783.89)">0.0</text>
<text x="0" y="30" font-size="100" text-anchor="end" transform="matrix(0.2837 -0.0744 0.0198 0.3190 175.67 1633.34)">0.5</text>
<text x="0" y="36" font-size="100" text-anchor="end" transform="matrix(0.2788 -0.0936 0.2000 0.0916 243.21 1763.96)">0.5</text>
<text x="0" y="36" font-size="100" text-anchor="start" transform="matrix(0.2616 0.0924 -0.2270 0.0944 635.11 1762.54)">0.5</text>
<text x="0" y="30" font-size="100" text-anchor="end" transform="matrix(0.2801 -0.0828 0.0194 0.3121 179.89 1701.34)">1.0</text>
<text x="0" y="36" font-size="100" text-anchor="end" transform="matrix(0.2756 -0.0880 0.1874 0.0859 200.75 1744.51)">1.0</text>
<text x="0" y="36" font-size="100" text-anchor="start" transform="matrix(0.2610 0.0867 -0.2137 0.0889 683.42 1742.45)">1.0</text>
<text x="0" y="0" font-size="100" text-anchor="middle" transform="matrix(0.0320 0.4229 -0.3894 0.0890 85.33 1583.51)">Z (nm)</text>
<text x="0" y="0" font-size="100" text-anchor="middle" transform="matrix(0.2663 0.1361 -0.3898 0.1380 204.14 1814.64)">X (nm)</text>
<text x="0" y="0" font-size="100" text-anchor="middle" transform="matrix(0.3066 -0.1394 0.3648 0.1374 661.88 1813.33)">Y (nm)</text>
<g fill="none" stroke="#009100" stroke-width="6" stroke-linecap="round" stroke-linejoin="round">
<line x1="364.7" y1="1506.4" x2="516.4" y2="1533.8"/>
<polyline points="403.6,1505.1 364.7,1506.4 373.4,1513.8"/>
<polyline points="476,1535.3 516.4,1533.8 506.2,1525.6"/>
</g>
<g fill="none" stroke="#009100" stroke-width="6" stroke-linecap="round" stroke-linejoin="round">
<line x1="358" y1="1552.6" x2="525.9" y2="1648.5"/>
<polyline points="390.5,1561.4 358,1552.6 371.1,1570.1"/>
<polyline points="489.4,1639.8 525.9,1648.5 514,1631.8"/>
</g>
<line x1="1178.88" y1="1674.95" x2="1164.48" y2="1313.39" stroke="#cfcfcf" stroke-width="1.1"/>
<line x1="1187.84" y1="1644.02" x2="1019.54" y2="1743.66" stroke="#cfcfcf" stroke-width="1.1"/>
<line x1="1158.22" y1="1687.87" x2="1142.7" y2="1316.65" stroke="#cfcfcf" stroke-width="1.1"/>
<line x1="1185.91" y1="1594.23" x2="1016.21" y2="1683.28" stroke="#cfcfcf" stroke-width="1.1"/>
<line x1="1136.42" y1="1701.51" x2="1119.67" y2="1320.1" stroke="#cfcfcf" stroke-width="1.1"/>
<line x1="1183.96" y1="1543.97" x2="1012.83" y2="1622.21" stroke="#cfcfcf" stroke-width="1.1"/>
<line x1="1113.38" y1="1715.92" x2="1095.27" y2="1323.75" stroke="#cfcfcf" stroke-width="1.1"/>
<line x1="1181.98" y1="1493.23" x2="1009.42" y2="1560.43" stroke="#cfcfcf" stroke-width="1.1"/>
<line x1="1088.97" y1="1731.19" x2="1069.38" y2="1327.63" stroke="#cfcfcf" stroke-width="1.1"/>
<line x1="1179.99" y1="1442.02" x2="1005.97" y2="1497.93" stroke="#cfcfcf" stroke-width="1.1"/>
<line x1="1063.09" y1="1747.38" x2="1041.86" y2="1331.75" stroke="#cfcfcf" stroke-width="1.1"/>
<line x1="1177.98" y1="1390.31" x2="1002.48" y2="1434.69" stroke="#cfcfcf" stroke-width="1.1"/>
<line x1="1035.59" y1="1764.58" x2="1012.55" y2="1336.13" stroke="#cfcfcf" stroke-width="1.1"/>
<line x1="1175.96" y1="1338.11" x2="998.95" y2="1370.71" stroke="#cfcfcf" stroke-width="1.1"/>
<line x1="1212.37" y1="1670.13" x2="1199.23" y2="1311.6" stroke="#cfcfcf" stroke-width="1.1"/>
<line x1="1187.84" y1="1644.02" x2="1538.99" y2="1663.07" stroke="#cfcfcf" stroke-width="1.1"/>
<line x1="1260.14" y1="1672.95" x2="1248.51" y2="1311.16" stroke="#cfcfcf" stroke-width="1.1"/>
<line x1="1185.91" y1="1594.23" x2="1538.68" y2="1610.02" stroke="#cfcfcf" stroke-width="1.1"/>
<line x1="1308.78" y1="1675.81" x2="1298.71" y2="1310.7" stroke="#cfcfcf" stroke-width="1.1"/>
<line x1="1183.96" y1="1543.97" x2="1538.37" y2="1556.45" stroke="#cfcfcf" stroke-width="1.1"/>
<line x1="1358.32" y1="1678.73" x2="1349.88" y2="1310.24" stroke="#cfcfcf" stroke-width="1.1"/>
<line x1="1181.98" y1="1493.23" x2="1538.05" y2="1502.33" stroke="#cfcfcf" stroke-width="1.1"/>
<line x1="1408.78" y1="1681.71" x2="1402.03" y2="1309.77" stroke="#cfcfcf" stroke-width="1.1"/>
<line x1="1179.99" y1="1442.02" x2="1537.73" y2="1447.67" stroke="#cfcfcf" stroke-width="1.1"/>
<line x1="1460.19" y1="1684.74" x2="1455.2" y2="1309.28" stroke="#cfcfcf" stroke-width="1.1"/>
<line x1="1177.98" y1="1390.31" x2="1537.41" y2="1392.44" stroke="#cfcfcf" stroke-width="1.1"/>
<line x1="1512.58" y1="1687.83" x2="1509.41" y2="1308.79" stroke="#cfcfcf" stroke-width="1.1"/>
<line x1="1175.96" y1="1338.11" x2="1537.08" y2="1336.65" stroke="#cfcfcf" stroke-width="1.1"/>
<line x1="1212.37" y1="1670.13" x2="1049.1" y2="1775.86" stroke="#cfcfcf" stroke-width="1.1"/>
<line x1="1178.88" y1="1674.95" x2="1533.47" y2="1696.31" stroke="#cfcfcf" stroke-width="1.1"/>
<line x1="1260.14" y1="1672.95" x2="1105.84" y2="1780.49" stroke="#cfcfcf" stroke-width="1.1"/>
<line x1="1158.22" y1="1687.87" x2="1521.63" y2="1710.75" stroke="#cfcfcf" stroke-width="1.1"/>
<line x1="1308.78" y1="1675.81" x2="1163.86" y2="1785.22" stroke="#cfcfcf" stroke-width="1.1"/>
<line x1="1136.42" y1="1701.51" x2="1509.08" y2="1726.04" stroke="#cfcfcf" stroke-width="1.1"/>
<line x1="1358.32" y1="1678.73" x2="1223.2" y2="1790.05" stroke="#cfcfcf" stroke-width="1.1"/>
<line x1="1113.38" y1="1715.92" x2="1495.76" y2="1742.28" stroke="#cfcfcf" stroke-width="1.1"/>
<line x1="1408.78" y1="1681.71" x2="1283.9" y2="1795" stroke="#cfcfcf" stroke-width="1.1"/>
<line x1="1088.97" y1="1731.19" x2="1481.59" y2="1759.54" stroke="#cfcfcf" stroke-width="1.1"/>
<line x1="1460.19" y1="1684.74" x2="1346.01" y2="1800.06" stroke="#cfcfcf" stroke-width="1.1"/>
<line x1="1063.09" y1="1747.38" x2="1466.51" y2="1777.93" stroke="#cfcfcf" stroke-width="1.1"/>
<line x1="1512.58" y1="1687.83" x2="1409.58" y2="1805.25" stroke="#cfcfcf" stroke-width="1.1"/>
<line x1="1035.59" y1="1764.58" x2="1450.4" y2="1797.56" stroke="#cfcfcf" stroke-width="1.1"/>
<line x1="997.17" y1="1338.44" x2="1174.93" y2="1311.82" stroke="#666" stroke-width="1"/>
<line x1="1174.93" y1="1311.82" x2="1188.8" y2="1668.74" stroke="#666" stroke-width="1"/>
<line x1="1174.93" y1="1311.82" x2="1536.92" y2="1308.54" stroke="#666" stroke-width="1"/>
<line x1="1536.92" y1="1308.54" x2="1539.15" y2="1689.39" stroke="#666" stroke-width="1"/>
<line x1="1021.19" y1="1773.59" x2="1188.8" y2="1668.74" stroke="#666" stroke-width="1"/>
<line x1="1188.8" y1="1668.74" x2="1539.15" y2="1689.39" stroke="#666" stroke-width="1"/>
<line x1="997.17" y1="1338.44" x2="1021.19" y2="1773.59" stroke="#000" stroke-width="3" stroke-linecap="square"/>
<line x1="1021.19" y1="1773.59" x2="1441.93" y2="1807.88" stroke="#000" stroke-width="3" stroke-linecap="square"/>
<line x1="1441.93" y1="1807.88" x2="1539.15" y2="1689.39" stroke="#000" stroke-width="3" stroke-linecap="square"/>
<line x1="1021.19" y1="1773.59" x2="1017.38" y2="1775.97" stroke="#000" stroke-width="2.6"/>
<line x1="1539.15" y1="1689.39" x2="1545.63" y2="1689.77" stroke="#000" stroke-width="2.6"/>
<line x1="1019.54" y1="1743.66" x2="1014.38" y2="1746.71" stroke="#000" stroke-width="2.4"/>
<line x1="1049.1" y1="1775.86" x2="1044.06" y2="1779.12" stroke="#000" stroke-width="2.6"/>
<line x1="1533.47" y1="1696.31" x2="1543.45" y2="1696.91" stroke="#000" stroke-width="2.6"/>
<line x1="1017.88" y1="1713.55" x2="1015.26" y2="1715.02" stroke="#000" stroke-width="2.4"/>
<line x1="1077.31" y1="1778.16" x2="1074.41" y2="1780.11" stroke="#000" stroke-width="2.6"/>
<line x1="1527.63" y1="1703.43" x2="1531.13" y2="1703.64" stroke="#000" stroke-width="2.6"/>
<line x1="1016.21" y1="1683.28" x2="1010.89" y2="1686.07" stroke="#000" stroke-width="2.4"/>
<line x1="1105.84" y1="1780.49" x2="1100.92" y2="1783.92" stroke="#000" stroke-width="2.6"/>
<line x1="1521.63" y1="1710.75" x2="1531.61" y2="1711.38" stroke="#000" stroke-width="2.6"/>
<line x1="1014.52" y1="1652.83" x2="1011.83" y2="1654.15" stroke="#000" stroke-width="2.4"/>
<line x1="1134.69" y1="1782.84" x2="1131.86" y2="1784.89" stroke="#000" stroke-width="2.6"/>
<line x1="1515.44" y1="1718.28" x2="1518.94" y2="1718.51" stroke="#000" stroke-width="2.6"/>
<line x1="1012.83" y1="1622.21" x2="1007.38" y2="1624.7" stroke="#000" stroke-width="2.4"/>
<line x1="1163.86" y1="1785.22" x2="1159.07" y2="1788.83" stroke="#000" stroke-width="2.6"/>
<line x1="1509.08" y1="1726.04" x2="1519.05" y2="1726.7" stroke="#000" stroke-width="2.6"/>
<line x1="1011.13" y1="1591.41" x2="1008.37" y2="1592.58" stroke="#000" stroke-width="2.4"/>
<line x1="1193.36" y1="1787.62" x2="1190.61" y2="1789.79" stroke="#000" stroke-width="2.6"/>
<line x1="1502.52" y1="1734.04" x2="1506.01" y2="1734.27" stroke="#000" stroke-width="2.6"/>
<line x1="1009.42" y1="1560.43" x2="1003.83" y2="1562.6" stroke="#000" stroke-width="2.4"/>
<line x1="1223.2" y1="1790.05" x2="1218.57" y2="1793.87" stroke="#000" stroke-width="2.6"/>
<line x1="1495.76" y1="1742.28" x2="1505.73" y2="1742.96" stroke="#000" stroke-width="2.6"/>
<line x1="1007.7" y1="1529.27" x2="1004.88" y2="1530.27" stroke="#000" stroke-width="2.4"/>
<line x1="1253.38" y1="1792.51" x2="1250.73" y2="1794.8" stroke="#000" stroke-width="2.6"/>
<line x1="1488.79" y1="1750.77" x2="1492.28" y2="1751.02" stroke="#000" stroke-width="2.6"/>
<line x1="1005.97" y1="1497.93" x2="1000.26" y2="1499.76" stroke="#000" stroke-width="2.4"/>
<line x1="1283.9" y1="1795" x2="1279.46" y2="1799.03" stroke="#000" stroke-width="2.6"/>
<line x1="1481.59" y1="1759.54" x2="1491.57" y2="1760.26" stroke="#000" stroke-width="2.6"/>
<line x1="1004.23" y1="1466.4" x2="1001.35" y2="1467.23" stroke="#000" stroke-width="2.4"/>
<line x1="1314.78" y1="1797.52" x2="1312.25" y2="1799.94" stroke="#000" stroke-width="2.6"/>
<line x1="1474.17" y1="1768.59" x2="1477.66" y2="1768.84" stroke="#000" stroke-width="2.6"/>
<line x1="1002.48" y1="1434.69" x2="996.67" y2="1436.16" stroke="#000" stroke-width="2.4"/>
<line x1="1346.01" y1="1800.06" x2="1341.79" y2="1804.33" stroke="#000" stroke-width="2.6"/>
<line x1="1466.51" y1="1777.93" x2="1476.48" y2="1778.68" stroke="#000" stroke-width="2.6"/>
<line x1="1000.72" y1="1402.8" x2="997.79" y2="1403.44" stroke="#000" stroke-width="2.4"/>
<line x1="1377.61" y1="1802.64" x2="1375.22" y2="1805.2" stroke="#000" stroke-width="2.6"/>
<line x1="1458.59" y1="1787.58" x2="1462.08" y2="1787.85" stroke="#000" stroke-width="2.6"/>
<line x1="998.95" y1="1370.71" x2="993.05" y2="1371.8" stroke="#000" stroke-width="2.4"/>
<line x1="1409.58" y1="1805.25" x2="1405.62" y2="1809.76" stroke="#000" stroke-width="2.6"/>
<line x1="1450.4" y1="1797.56" x2="1460.37" y2="1798.35" stroke="#000" stroke-width="2.6"/>
<line x1="1441.93" y1="1807.88" x2="1439.08" y2="1811.36" stroke="#000" stroke-width="2.6"/>
<line x1="1441.93" y1="1807.88" x2="1448.41" y2="1808.41" stroke="#000" stroke-width="2.6"/>
<text x="0" y="36" font-size="100" text-anchor="end" transform="matrix(0.1888 -0.1118 0.0214 0.3817 1010.63 1748.93)">-1.5</text>
<text x="0" y="36" font-size="100" text-anchor="end" transform="matrix(0.1799 -0.1165 0.3503 0.0289 1041.62 1780.71)">-1.5</text>
<text x="0" y="36" font-size="100" text-anchor="start" transform="matrix(0.3370 0.0203 -0.0691 0.0874 1547.57 1697.16)">-1.5</text>
<text x="0" y="36" font-size="100" text-anchor="end" transform="matrix(0.1906 -0.1000 0.0217 0.3861 1007.22 1688.00)">-1.0</text>
<text x="0" y="36" font-size="100" text-anchor="end" transform="matrix(0.1704 -0.1187 0.3582 0.0296 1098.76 1785.42)">-1.0</text>
<text x="0" y="36" font-size="100" text-anchor="start" transform="matrix(0.3461 0.0218 -0.0731 0.0925 1536.10 1711.66)">-1.0</text>
<text x="0" y="36" font-size="100" text-anchor="end" transform="matrix(0.1924 -0.0880 0.0219 0.3906 1003.76 1626.36)">-0.5</text>
<text x="0" y="36" font-size="100" text-anchor="end" transform="matrix(0.1604 -0.1211 0.3664 0.0303 1157.19 1790.25)">-0.5</text>
<text x="0" y="36" font-size="100" text-anchor="start" transform="matrix(0.3556 0.0234 -0.0776 0.0981 1523.95 1727.02)">-0.5</text>
<text x="0" y="36" font-size="100" text-anchor="end" transform="matrix(0.1942 -0.0756 0.0222 0.3952 1000.26 1563.99)">0.0</text>
<text x="0" y="36" font-size="100" text-anchor="end" transform="matrix(0.1499 -0.1235 0.3748 0.0310 1216.97 1795.19)">0.0</text>
<text x="0" y="36" font-size="100" text-anchor="start" transform="matrix(0.3657 0.0252 -0.0824 0.1042 1511.05 1743.33)">0.0</text>
<text x="0" y="36" font-size="100" text-anchor="end" transform="matrix(0.1961 -0.0630 0.0224 0.3999 996.72 1500.90)">0.5</text>
<text x="0" y="36" font-size="100" text-anchor="end" transform="matrix(0.1388 -0.1260 0.3836 0.0317 1278.13 1800.24)">0.5</text>
<text x="0" y="36" font-size="100" text-anchor="start" transform="matrix(0.3764 0.0272 -0.0877 0.1109 1497.33 1760.68)">0.5</text>
<text x="0" y="36" font-size="100" text-anchor="end" transform="matrix(0.1980 -0.0501 0.0227 0.4046 993.14 1437.05)">1.0</text>
<text x="0" y="36" font-size="100" text-anchor="end" transform="matrix(0.1273 -0.1285 0.3926 0.0324 1340.72 1805.41)">1.0</text>
<text x="0" y="36" font-size="100" text-anchor="start" transform="matrix(0.3877 0.0294 -0.0936 0.1183 1482.72 1779.16)">1.0</text>
<text x="0" y="36" font-size="100" text-anchor="end" transform="matrix(0.2000 -0.0368 0.0230 0.4094 989.52 1372.45)">1.5</text>
<text x="0" y="36" font-size="100" text-anchor="end" transform="matrix(0.1151 -0.1312 0.4020 0.0332 1404.80 1810.70)">1.5</text>
<text x="0" y="36" font-size="100" text-anchor="start" transform="matrix(0.3997 0.0318 -0.1000 0.1265 1467.11 1798.89)">1.5</text>
<text x="0" y="0" font-size="100" text-anchor="middle" transform="matrix(0.0337 0.5454 -0.2854 0.1111 941.29 1586.96)">Z (nm)</text>
<text x="0" y="0" font-size="100" text-anchor="middle" transform="matrix(0.5234 0.0475 -0.2249 0.1853 1169.59 1834.22)">X (nm)</text>
<text x="0" y="0" font-size="100" text-anchor="middle" transform="matrix(0.0827 -0.1425 0.5031 0.0347 1621.74 1750.96)">Y (nm)</text>
<g fill="none" stroke="#009100" stroke-width="6" stroke-linecap="round" stroke-linejoin="round">
<line x1="1236.8" y1="1384.6" x2="1342.3" y2="1529.4"/>
<polyline points="1256.8,1401.4 1236.8,1384.6 1241.9,1406.1"/>
<polyline points="1336,1506 1342.3,1529.4 1322.4,1513.3"/>
</g>
<g fill="none" stroke="#009100" stroke-width="6" stroke-linecap="round" stroke-linejoin="round">
<line x1="1223.5" y1="1640.6" x2="1365.9" y2="1561.4"/>
<polyline points="1248.6,1618.4 1223.5,1640.6 1244.6,1633.3"/>
<polyline points="1344.8,1565.4 1365.9,1561.4 1343.3,1581.8"/>
</g>
</svg>
</body></html>
